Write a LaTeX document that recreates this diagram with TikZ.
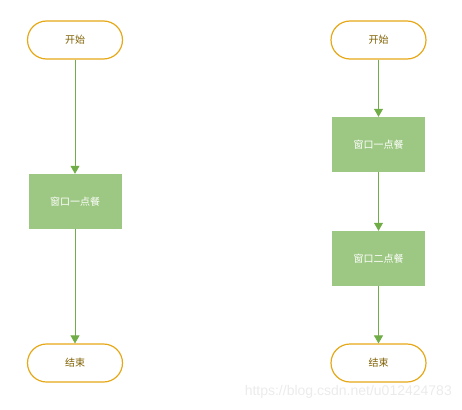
\documentclass[tikz,border=0pt]{standalone}
\usepackage{fontspec}
\setmainfont{Liberation Sans}
\newfontfamily\cjk{Noto Sans CJK SC}
\usetikzlibrary{arrows.meta}
\definecolor{termline}{HTML}{E6A817}
\definecolor{termtext}{HTML}{7F6000}
\definecolor{boxfill}{HTML}{9DC883}
\definecolor{arrowc}{HTML}{70AD47}
\tikzset{
  term/.style={draw=termline, line width=1.2pt, rounded corners=19pt, minimum width=95pt, minimum height=38pt, inner sep=0pt, font=\cjk\fontsize{10}{12}\selectfont, text=termtext, fill=white},
  procbox/.style={fill=boxfill, draw=none, minimum width=93pt, minimum height=55pt, inner sep=0pt, font=\cjk\fontsize{10}{12}\selectfont, text=white},
  flow/.style={draw=arrowc, line width=0.8pt, -{Triangle[length=8pt,width=9pt]}}
}
\begin{document}
\begin{tikzpicture}[x=1pt,y=-1pt]
\useasboundingbox (0,0) rectangle (462,409);
\node[term] (s1) at (75,40) {开始};
\node[procbox] (a1) at (75,201.5) {窗口一点餐};
\node[term] (e1) at (75,363) {结束};
\node[term] (s2) at (378.5,40) {开始};
\node[procbox] (b1) at (378.5,144.5) {窗口一点餐};
\node[procbox] (b2) at (378.5,258.5) {窗口二点餐};
\node[term] (e2) at (378.5,363) {结束};
\draw[flow] (s1) -- (a1);
\draw[flow] (a1) -- (e1);
\draw[flow] (s2) -- (b1);
\draw[flow] (b1) -- (b2);
\draw[flow] (b2) -- (e2);
\node[text=black!8, font=\fontsize{14}{16}\selectfont, anchor=east, inner sep=0pt] (wm) at (452,392) {https://blog.csdn.net/u012424783};
\end{tikzpicture}
\end{document}
